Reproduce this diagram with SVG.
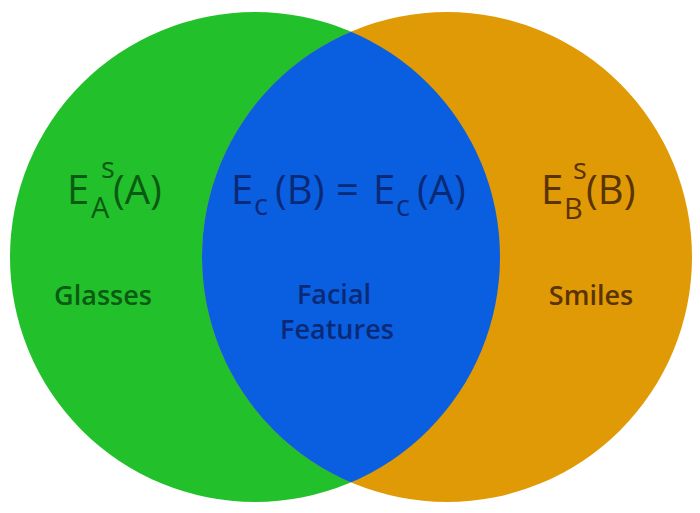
<svg xmlns="http://www.w3.org/2000/svg" width="700" height="513" viewBox="0 0 700 513">
<style>
text{font-family:"Open Sans","Noto Sans","DejaVu Sans",sans-serif;}
.m{font-size:40px;font-weight:500;}
.s{font-size:29px;font-weight:500;}
.l{font-size:27px;font-weight:600;text-anchor:middle;}
.g{fill:#0b5a14;}
.b{fill:#0a2a78;}
.o{fill:#5a3400;}
</style>
<defs>
<clipPath id="cl"><circle cx="255" cy="257" r="245"/></clipPath>
</defs>
<rect width="700" height="513" fill="#ffffff"/>
<g id="setA"><circle cx="255" cy="257" r="245" fill="#22c12b"/></g>
<g id="setB"><circle cx="447" cy="257" r="245" fill="#e09a06"/></g>
<g id="intersection"><circle cx="447" cy="257" r="245" fill="#0a5fe0" clip-path="url(#cl)"/></g>
<g id="labelA" class="g">
<text class="m" x="67" y="204">E</text>
<text class="s" x="101" y="178">s</text>
<text class="s" x="91" y="218">A</text>
<text class="m" x="113" y="204">(A)</text>
<text class="l" x="103" y="305">Glasses</text>
</g>
<g id="labelC" class="b">
<text class="m" x="231" y="204">E</text>
<text class="s" x="254" y="215">c</text>
<text class="m" x="275" y="204">(B)</text>
<text class="m" x="336" y="204">=</text>
<text class="m" x="373" y="204">E</text>
<text class="s" x="396" y="216">c</text>
<text class="m" x="417" y="204">(A)</text>
<text class="l" x="334" y="304">Facial</text>
<text class="l" x="337" y="339">Features</text>
</g>
<g id="labelB" class="o">
<text class="m" x="541" y="204">E</text>
<text class="s" x="573" y="179">s</text>
<text class="s" x="564" y="219">B</text>
<text class="m" x="586" y="204">(B)</text>
<text class="l" x="591" y="305">Smiles</text>
</g>
</svg>
